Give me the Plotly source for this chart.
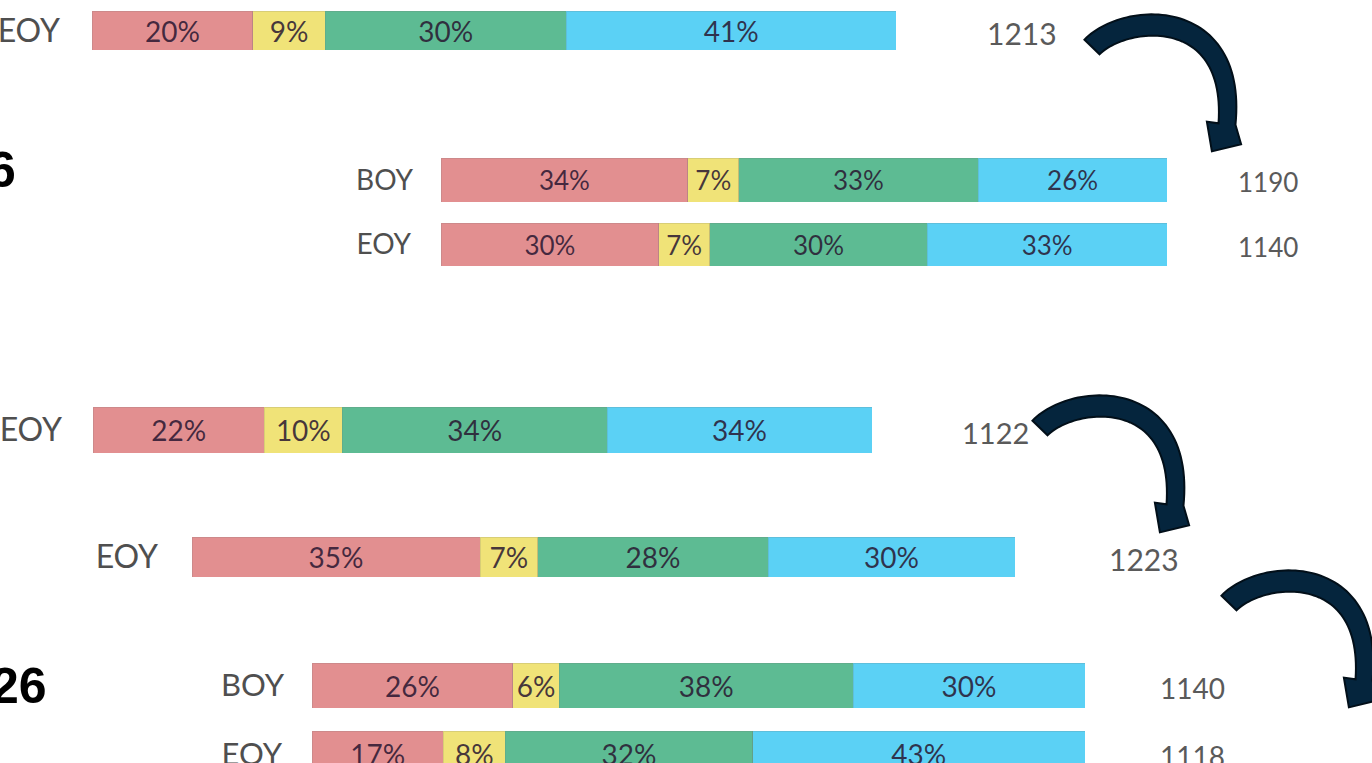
import numpy as np
import plotly.graph_objects as go

W, H = 1372, 763

# ---- data -------------------------------------------------------------
row_labels = ["EOY", "BOY", "EOY", "EOY", "EOY", "BOY", "EOY"]
level_names = ["Level 1", "Level 2", "Level 3", "Level 4"]
level_1 = [20, 34, 30, 22, 35, 26, 17]
level_2 = [9, 7, 7, 10, 7, 6, 8]
level_3 = [30, 33, 30, 34, 28, 38, 32]
level_4 = [41, 26, 33, 34, 30, 30, 43]
totals = [1213, 1190, 1140, 1122, 1223, 1140, 1118]
year_marks = ["6", "26"]

# ---- layout / style ---------------------------------------------------
level_colors = ["#e28f90", "#f0e378", "#5dbb93", "#5bd1f5"]
# pixel boxes of each bar row: left, right, top, bottom
row_boxes = [(92, 896, 11, 50), (441, 1167, 158, 202), (441, 1167, 223, 266),
             (93, 872, 407, 453), (192, 1015, 537, 577),
             (312, 1085, 663, 708), (312, 1085, 731, 777)]
row_scale = [1.15, 1.0, 1.0, 1.13, 1.15, 1.09, 1.09]
label_gap = [31, 27, 29, 30, 33, 27, 29]
total_x = [1022, 1268, 1268, 995, 1144, 1192, 1192]
year_pos = [(18, 170), (49, 686)]
arrow_offsets = [(0, 0), (-52, 381), (137, 556)]

levels = [level_1, level_2, level_3, level_4]

fig = go.Figure()
layout_axes = {}
annotations = []

for i, (lbl, box) in enumerate(zip(row_labels, row_boxes)):
    n = i + 1
    s = row_scale[i]
    xa, ya = f"x{n}", f"y{n}"
    for name, vals, color in zip(level_names, levels, level_colors):
        fig.add_trace(go.Bar(
            x=[vals[i]], y=[lbl], orientation="h", width=1,
            name=name, showlegend=False, hoverinfo="skip",
            marker=dict(color=color, line=dict(color="rgba(110,110,110,0.18)", width=1)),
            text=[f"{vals[i]}%"], textposition="inside", insidetextanchor="middle",
            constraintext="none",
            textfont=dict(family="Lato", size=round(26 * s), color="rgba(40,22,48,0.85)"),
            xaxis=xa, yaxis=ya,
        ))
    left, right, top, bottom = box
    h = bottom - top
    vis_bottom = min(bottom, H)
    low = 0.5 - (vis_bottom - top) / h
    xkey = "xaxis" if n == 1 else f"xaxis{n}"
    ykey = "yaxis" if n == 1 else f"yaxis{n}"
    layout_axes[xkey] = dict(domain=[left / W, right / W], range=[0, 100],
                             visible=False, fixedrange=True, anchor=ya,
                             automargin=False)
    layout_axes[ykey] = dict(domain=[1 - vis_bottom / H, 1 - top / H],
                             range=[low, 0.5], type="category", anchor=xa,
                             showgrid=False, zeroline=False, showline=False,
                             ticks="", ticklabelstandoff=label_gap[i],
                             tickfont=dict(family="Lato", size=round(28 * s), color="#4f4f4f"),
                             fixedrange=True, automargin=False)
    annotations.append(dict(
        xref="paper", x=total_x[i] / W, yref=ya, y=0, yshift=-2,
        text=str(totals[i]), showarrow=False, xanchor="center", yanchor="middle",
        font=dict(family="Lato", size=round(26 * s), color="#5a5a5a")))

for mark, (px, py) in zip(year_marks, year_pos):
    annotations.append(dict(
        xref="paper", yref="paper", x=px / W, y=1 - py / H,
        text=f"<b>{mark}</b>", showarrow=False, xanchor="right", yanchor="middle",
        font=dict(family="Liberation Sans", size=50, color="#000000")))


# ---- curved arrows ------------------------------------------------------
def bezier(p0, p1, p2, p3, t):
    t = t[:, None]
    pt = ((1 - t) ** 3) * p0 + 3 * ((1 - t) ** 2) * t * p1 + 3 * (1 - t) * t ** 2 * p2 + t ** 3 * p3
    dt = 3 * ((1 - t) ** 2) * (p1 - p0) + 6 * (1 - t) * t * (p2 - p1) + 3 * t ** 2 * (p3 - p2)
    return pt, dt


def arrow_path(dx, dy):
    p0 = np.array([1092.0, 47.0])
    p1 = np.array([1125.0, 13.0])
    p2 = np.array([1237.0, 5.0])
    p3 = np.array([1227.0, 124.0])
    t = np.linspace(0, 1, 60)
    pts, der = bezier(p0, p1, p2, p3, t)
    der = der / np.linalg.norm(der, axis=1)[:, None]
    nrm = np.stack([-der[:, 1], der[:, 0]], axis=1)
    w = (np.linspace(21, 17, len(t)) + 2 * np.sin(np.pi * t))[:, None] / 2
    inner = pts + nrm * w
    outer = pts - nrm * w
    hd = np.array([-0.55, 0.835])
    hn = np.array([-hd[1], hd[0]])
    mid = np.array([1224.0, 133.0])
    barb_l = mid + hn * 20.5
    barb_r = mid - hn * 20.5
    tip = mid + hd * 22
    poly = list(inner) + [barb_l, tip, barb_r] + list(outer[::-1])
    coords = [((x + dx) / W, 1 - (y + dy) / H) for x, y in poly]
    return "M " + " L ".join(f"{x:.5f},{y:.5f}" for x, y in coords) + " Z"


shapes = [dict(type="path", xref="paper", yref="paper", path=arrow_path(ox, oy),
               fillcolor="#05253d", line=dict(color="#020f19", width=2), layer="above")
          for ox, oy in arrow_offsets]

fig.update_layout(
    **layout_axes,
    barmode="stack",
    width=W, height=H,
    autosize=False,
    margin=dict(l=0, r=0, t=0, b=0, pad=0, autoexpand=False),
    paper_bgcolor="white", plot_bgcolor="white",
    uniformtext=dict(minsize=24, mode="show"),
    annotations=annotations,
    shapes=shapes,
    showlegend=False,
)

fig.write_html("out.html")
